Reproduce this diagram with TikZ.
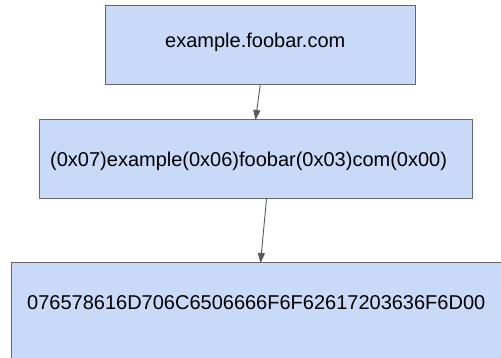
\documentclass[tikz,border=0pt]{standalone}
\usepackage{fontspec}
\setmainfont{Liberation Sans}
\usetikzlibrary{arrows.meta}
\definecolor{boxfill}{HTML}{C9DAF8}
\definecolor{boxline}{HTML}{666666}
\definecolor{arrowline}{HTML}{595959}
\begin{document}
\begin{tikzpicture}[x=1pt,y=-1pt,
  box/.style={draw=boxline, fill=boxfill, line width=1pt, inner sep=0pt, outer sep=0pt},
  lbl/.style={font=\fontsize{20}{24}\selectfont, inner sep=0pt, anchor=west},
  link/.style={draw=arrowline, line width=0.9pt, -{Triangle[length=10pt,width=7pt]}}]
\useasboundingbox (0,0) rectangle (501,358);
% three stages of the name encoding
\node[box, minimum width=310pt, minimum height=78.6pt] (box1) at (260.3,45) {};
\node[box, minimum width=433pt, minimum height=79pt] (box2) at (255.5,159.5) {};
\node[box, minimum width=499pt, minimum height=107pt] (box3) at (260.5,316.5) {};
% labels
\node[lbl] (lbl1) at (165,42) {example.foobar.com};
\node[lbl] (lbl2) at (50,161) {(0x07)example(0x06)foobar(0x03)com(0x00)};
\node[lbl] (lbl3) at (27,303) {076578616D706C6506666F6F62617203636F6D00};
% connectors
\draw[link] (box1.south) -- (box2.north);
\draw[link] ([xshift=11pt]box2.south) -- (box3.north);
\end{tikzpicture}
\end{document}
